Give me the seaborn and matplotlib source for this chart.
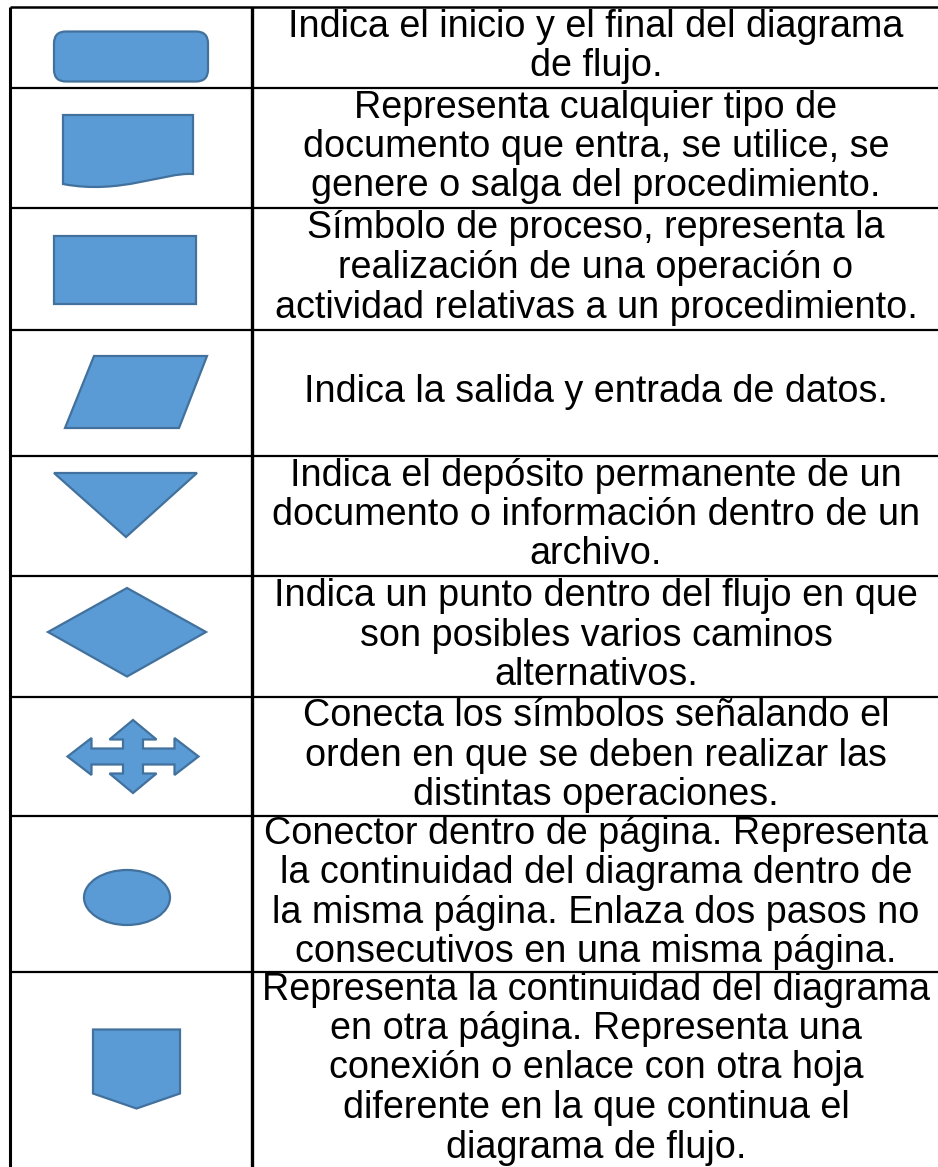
import matplotlib.pyplot as plt
import seaborn as sns
from matplotlib.patches import Polygon, Ellipse, FancyBboxPatch, PathPatch
from matplotlib.path import Path

# table data
shape_names = [
    "terminal", "document", "process", "data", "storage",
    "decision", "connector_arrows", "onpage", "offpage",
]
row_edges = [7, 88, 208, 330, 456, 576, 697, 816, 972, 1167]
descriptions = [
    ["Indica el inicio y el final del diagrama", "de flujo."],
    ["Representa cualquier tipo de", "documento que entra, se utilice, se",
     "genere o salga del procedimiento."],
    ["Símbolo de proceso, representa la", "realización de una operación o",
     "actividad relativas a un procedimiento."],
    ["Indica la salida y entrada de datos."],
    ["Indica el depósito permanente de un", "documento o información dentro de un",
     "archivo."],
    ["Indica un punto dentro del flujo en que", "son posibles varios caminos",
     "alternativos."],
    ["Conecta los símbolos señalando el", "orden en que se deben realizar las",
     "distintas operaciones."],
    ["Conector dentro de página. Representa", "la continuidad del diagrama dentro de",
     "la misma página. Enlaza dos pasos no", "consecutivos en una misma página."],
    ["Representa la continuidad del diagrama", "en otra página. Representa una",
     "conexión o enlace con otra hoja", "diferente en la que continua el",
     "diagrama de flujo."],
]

W, H = 938, 1167
X_LEFT, X_DIV = 10, 252
FILL = "#5B9BD5"
EDGE = "#41719C"
LINE_STEP = 39.5

sns.set_theme(style="white")
plt.rcParams["font.family"] = ["Liberation Sans", "DejaVu Sans"]

fig = plt.figure(figsize=(W / 100, H / 100), dpi=100)
ax = fig.add_axes([0, 0, 1, 1])
ax.set_xlim(0, W)
ax.set_ylim(H, 0)
ax.axis("off")

kw = dict(facecolor=FILL, edgecolor=EDGE, linewidth=1.6, zorder=3)


def draw_shape(name, cx, cy):
    if name == "terminal":
        ax.add_patch(FancyBboxPatch((cx - 77, cy - 16), 154, 50,
                                    boxstyle="round,pad=0,rounding_size=12", **kw))
    elif name == "document":
        verts = [(cx - 68, cy - 33), (cx + 62, cy - 33), (cx + 62, cy + 26),
                 (cx + 34, cy + 24), (cx - 11, cy + 47), (cx - 68, cy + 36),
                 (cx - 68, cy - 33)]
        codes = [Path.MOVETO, Path.LINETO, Path.LINETO,
                 Path.CURVE4, Path.CURVE4, Path.CURVE4, Path.CLOSEPOLY]
        ax.add_patch(PathPatch(Path(verts, codes), **kw))
    elif name == "process":
        ax.add_patch(Polygon([(cx - 77, cy - 33), (cx + 65, cy - 33),
                              (cx + 65, cy + 35), (cx - 77, cy + 35)], **kw))
    elif name == "data":
        ax.add_patch(Polygon([(cx - 37, cy - 37), (cx + 76, cy - 37),
                              (cx + 48, cy + 35), (cx - 66, cy + 35)], **kw))
    elif name == "storage":
        ax.add_patch(Polygon([(cx - 77, cy - 43), (cx + 66, cy - 43),
                              (cx - 5, cy + 21)], **kw))
    elif name == "decision":
        ax.add_patch(Polygon([(cx - 83, cy - 4.5), (cx - 4, cy - 48.5),
                              (cx + 75, cy - 4.5), (cx - 4, cy + 40)], **kw))
    elif name == "connector_arrows":
        x0, y0 = cx + 2, cy
        hr, vr = 65.5, 36.5
        hh, hl = 18.5, 24
        vh, vl = 23.5, 19.5
        sh, sv = 8, 10
        pts = [
            (0, -vr), (vh, -vr + vl), (sv, -vr + vl), (sv, -sh),
            (hr - hl, -sh), (hr - hl, -hh), (hr, 0), (hr - hl, hh), (hr - hl, sh),
            (sv, sh), (sv, vr - vl), (vh, vr - vl), (0, vr), (-vh, vr - vl),
            (-sv, vr - vl), (-sv, sh), (-hr + hl, sh), (-hr + hl, hh), (-hr, 0),
            (-hr + hl, -hh), (-hr + hl, -sh), (-sv, -sh), (-sv, -vr + vl),
            (-vh, -vr + vl),
        ]
        ax.add_patch(Polygon([(x0 + px, y0 + py) for px, py in pts], **kw))
    elif name == "onpage":
        ax.add_patch(Ellipse((cx - 4, cy + 3.5), 86, 55, **kw))
    elif name == "offpage":
        ax.add_patch(Polygon([(cx - 38, cy - 40), (cx + 49, cy - 40),
                              (cx + 49, cy + 24), (cx + 5.5, cy + 39),
                              (cx - 38, cy + 24)], **kw))


text_cx = (X_DIV + W) / 2 + 1
for i, (name, lines) in enumerate(zip(shape_names, descriptions)):
    top, bot = row_edges[i], row_edges[i + 1]
    cy = (top + bot) / 2
    draw_shape(name, (X_LEFT + X_DIV) / 2, cy)
    n = len(lines)
    for j, line in enumerate(lines):
        y = cy + (j - (n - 1) / 2) * LINE_STEP - 1
        ax.text(text_cx, y, line, ha="center", va="center",
                fontsize=27.2, color="black", zorder=4)

# table grid
for k, y in enumerate(row_edges[:-1]):
    ax.plot([X_LEFT, W], [y, y], color="black", lw=1.6 if k else 1.8,
            solid_capstyle="butt", zorder=2)
ax.plot([X_LEFT, X_LEFT], [row_edges[0], H], color="black", lw=2.2,
        solid_capstyle="butt", zorder=2)
ax.plot([X_DIV, X_DIV], [row_edges[0], H], color="black", lw=2.4,
        solid_capstyle="butt", zorder=2)

fig.savefig("out.png", dpi=100, facecolor="white")
